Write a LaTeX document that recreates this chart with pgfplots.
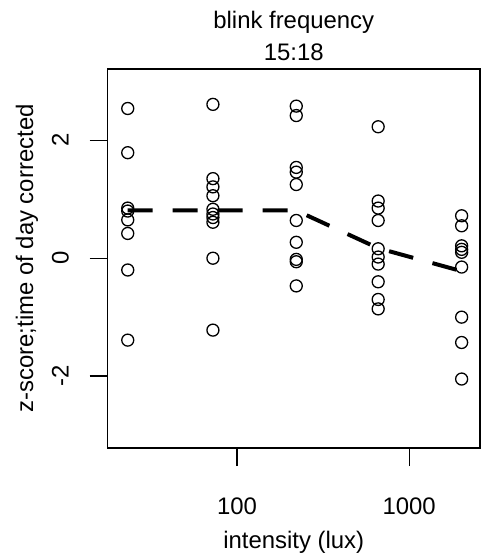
\documentclass[border=0pt]{standalone}
\usepackage{fontspec}
\setmainfont{Liberation Sans}
\usepackage{pgfplots}
\pgfplotsset{compat=1.18}

\begin{document}
\fontsize{24}{32}\selectfont
\begin{tikzpicture}
\useasboundingbox (0,0) rectangle (481bp,558bp);
\begin{axis}[
    at={(107.5bp,110bp)},
    anchor=south west,
    scale only axis,
    width=372.5bp,
    height=379bp,
    xmode=log,
    xmin=17.7, xmax=2580,
    ymin=-3.22, ymax=3.21,
    axis line style={line width=1.2bp},
    xtick={100,1000},
    xticklabels={100,1000},
    ytick={-2,0,2},
    yticklabels={-2,0,2},
    minor xtick={},
    log basis x=10,
    xminorticks=false,
    tick align=outside,
    xtick pos=lower,
    ytick pos=lower,
    major tick length=18bp,
    tick style={line width=1.2bp, black},
    xticklabel style={anchor=base, inner sep=0pt},
    xticklabel shift=48.7bp,
    yticklabel style={rotate=90, anchor=base, inner sep=0pt},
    yticklabel shift=21bp,
    title={blink frequency\\15:18},
    title style={align=center, at={(axis description cs:0.5,1)}, anchor=south, inner sep=0pt, yshift=2bp},
    xlabel={intensity (lux)},
    xlabel style={at={(axis description cs:0.5,-0.2657)}, anchor=base, inner sep=0pt},
    ylabel={z-score;time of day corrected},
    ylabel style={at={(axis description cs:-0.1995,0.5)}, anchor=base, inner sep=0pt},
]
% observations, one column per light intensity
\addplot [only marks, mark=o, mark size=6bp, mark options={line width=1.3bp}, black]
coordinates {
(23.2,2.54)(23.2,1.79)(23.2,0.85)(23.2,0.80)(23.2,0.65)(23.2,0.42)(23.2,-0.20)(23.2,-1.39)
(72.5,2.61)(72.5,1.35)(72.5,1.21)(72.5,1.06)(72.5,0.83)(72.5,0.75)(72.5,0.69)(72.5,0.61)(72.5,0.00)(72.5,-1.22)
(221,2.58)(221,2.42)(221,1.54)(221,1.46)(221,1.25)(221,0.64)(221,0.27)(221,-0.02)(221,-0.06)(221,-0.47)
(661,2.23)(661,0.97)(661,0.85)(661,0.64)(661,0.16)(661,0.02)(661,-0.10)(661,-0.40)(661,-0.70)(661,-0.86)
(2018,0.72)(2018,0.55)(2018,0.21)(2018,0.15)(2018,0.10)(2018,-0.15)(2018,-1.00)(2018,-1.43)(2018,-2.05)
};
% fitted values
\addplot [black, line width=4bp, dash pattern=on 25bp off 20bp]
coordinates {(23.2,0.81)(72.5,0.81)(221,0.81)(661,0.17)(2018,-0.22)};
\end{axis}
\end{tikzpicture}
\end{document}
